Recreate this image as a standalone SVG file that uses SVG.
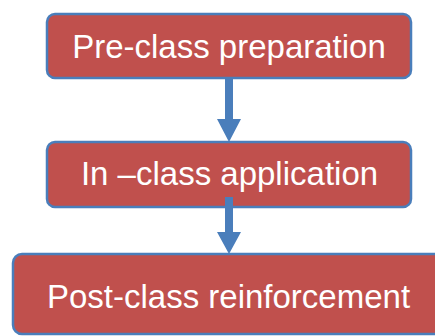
<svg xmlns="http://www.w3.org/2000/svg" width="435" height="336" viewBox="0 0 435 336">
<style>
.box{fill:#C0504D;stroke:#4A7EBB;stroke-width:2.5}
.lbl{font-family:"Liberation Sans",Arial,sans-serif;font-size:33px;fill:#FFFFFF;text-anchor:middle}
.conn{fill:#4A7EBB;stroke:none}
</style>
<rect width="435" height="336" fill="#FFFFFF"/>
<g id="node1">
<rect class="box" x="47" y="14" width="364" height="64" rx="8"/>
<text class="lbl" x="229" y="58">Pre-class preparation</text>
</g>
<g id="node2">
<rect class="box" x="47" y="142" width="364" height="65" rx="8"/>
<text class="lbl" x="229.5" y="185">In –class application</text>
</g>
<g id="node3">
<rect class="box" x="13" y="254" width="432" height="80" rx="9"/>
<text class="lbl" x="228.5" y="308">Post-class reinforcement</text>
</g>
<g id="connectors">
<polygon class="conn" points="225,78 233,78 233,119 241,119 229,142 217,119 225,119"/>
<polygon class="conn" points="225,197 233,197 233,232 241,232 229,254 217,232 225,232"/>
</g>
</svg>
